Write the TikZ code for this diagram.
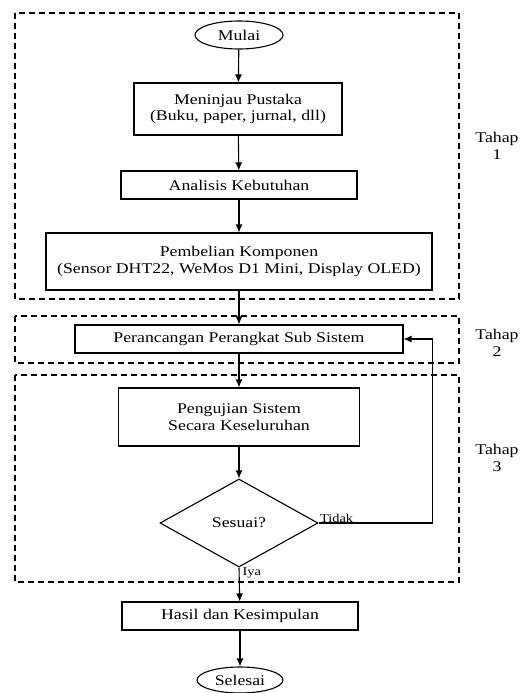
\documentclass[tikz,border=0pt]{standalone}
\usepackage{fontspec}
\setmainfont{Liberation Serif}[FakeStretch=1.2]
\usepackage{tikz}
\usetikzlibrary{arrows.meta,shapes.geometric}

\begin{document}
\begin{tikzpicture}[x=1pt, y=-1pt, line width=1.1pt,
                font=\fontsize{14.8}{16.7}\selectfont,
                proc/.style={rectangle,draw,align=center,inner sep=2pt},
                term/.style={ellipse,draw,inner sep=0pt,minimum width=88pt,minimum height=28pt},
                cond/.style={diamond,draw,inner sep=0pt,minimum width=158pt,minimum height=88pt},
                arrow/.style={-{Latex[length=8pt,width=7pt]}},
                stage/.style={dashed,dash pattern=on 6pt off 4pt},
                tahap/.style={align=center},
                small/.style={font=\fontsize{12}{14}\selectfont}]

            \useasboundingbox (0,0) rectangle (526,693);

            % Stages
            \draw[stage] (15,13) rectangle (459,299);
            \draw[stage] (15,316) rectangle (459,363);
            \draw[stage] (15,375) rectangle (459,582);
            \node[tahap] (t1) at (497,146) {Tahap\\1};
            \node[tahap] (t2) at (497,343) {Tahap\\2};
            \node[tahap] (t3) at (497,458) {Tahap\\3};

            % Nodes
            \node[term] (mulai) at (239,35) {Mulai};
            \node[proc, minimum width=208pt, minimum height=52pt] (pustaka) at (238,109)
                {Meninjau Pustaka\\(Buku, paper, jurnal, dll)};
            \node[proc, minimum width=236pt, minimum height=28pt] (analisis) at (239,185)
                {Analisis Kebutuhan};
            \node[proc, minimum width=386pt, minimum height=57pt] (beli) at (239,261.5)
                {Pembelian Komponen\\(Sensor DHT22, WeMos D1 Mini, Display OLED)};
            \node[proc, minimum width=328pt, minimum height=28pt] (rancang) at (239,339)
                {Perancangan Perangkat Sub Sistem};
            \node[proc, minimum width=241pt, minimum height=58pt] (uji) at (239,417)
                {Pengujian Sistem\\Secara Keseluruhan};
            \node[cond] (sesuai) at (239,523) {Sesuai?};
            \node[proc, minimum width=236pt, minimum height=28pt] (hasil) at (240,616)
                {Hasil dan Kesimpulan};
            \node[term, minimum width=86pt, minimum height=26pt] (selesai) at (240,680) {Selesai};

            % Edges
            \draw[arrow] (mulai) -- (pustaka);
            \draw[arrow] (pustaka) -- (analisis);
            \draw[arrow] (analisis) -- (beli);
            \draw[arrow] (beli) -- (rancang);
            \draw[arrow] (rancang) -- (uji);
            \draw[arrow] (uji) -- (sesuai);
            \draw[arrow] (sesuai.east) -- ++(114,0) |- (rancang.east);
            \draw[arrow] (sesuai.south) -- (hasil);
            \draw[arrow] (hasil) -- (selesai);

            % Labels
            \node[small, anchor=south west, inner sep=1pt] (tidak) at ([yshift=-1pt]sesuai.east) {Tidak};
            \node[small, anchor=north west, inner sep=1pt] (iya) at ([xshift=2pt,yshift=1pt]sesuai.south) {Iya};

        \end{tikzpicture}
\end{document}
